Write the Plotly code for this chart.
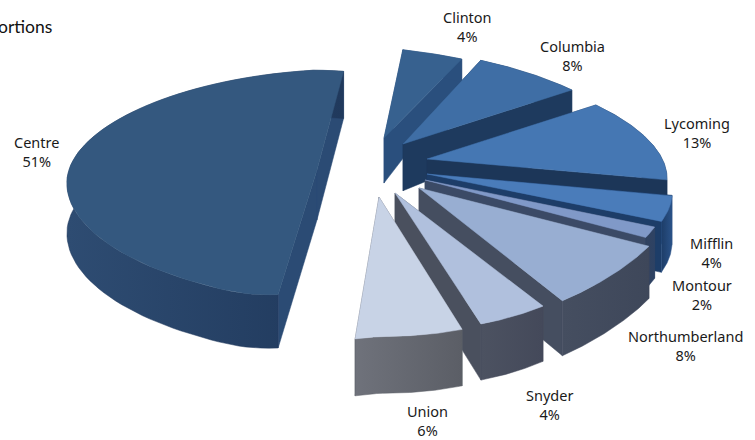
import numpy as np
import plotly.graph_objects as go

# ---- data ----
categories = ["Clinton", "Columbia", "Lycoming", "Mifflin", "Montour",
              "Northumberland", "Snyder", "Union", "Centre"]
shares = [4, 8, 13, 4, 2, 8, 4, 6, 51]
heading = "ortions"

# ---- view geometry (tilted, exploded disc, in page pixels) ----
first_angle = 85.5
warp_at = [0, 14.4, 43.2, 90, 104.4, 111.6, 140.4, 154.8, 176.4, 360]
warp_by = [0, 0, 3, 3.5, 2, 3, 0, 0, 0, 0]
apex_x = [384, 403, 427, 427, 425, 419, 395, 379, 317]
apex_y = [138, 144, 159, 174, 180, 188, 193, 197, 170]
rad_x = [240, 240, 240, 245, 240, 250, 258, 250, 250]
rad_top = [90, 95, 95, 95, 95, 95, 95, 95, 100]
rad_side = [95, 95, 95, 95, 95, 95, 95, 95, 110]
rad_front = [138, 138, 138, 138, 138, 138, 138, 140, 123]
bulge = [.08, .08, .08, .08, .08, .08, .08, .08, .04]
lean = [0, 0, 0, 0, 0, 0, 0, 0, 7]
front_shift = [20, 20, 20, 20, 20, 20, 20, 20, 28]
draw_order = [0, 1, 2, 8, 3, 4, 5, 6, 7]
depth_at_y = [55, 145, 340]
depth_h = [22, 47, 57]
centre_depth_at_y = [68, 348]
centre_depth_h = [47, 55]

# ---- styles ----
top_col = ["#37618f", "#3f6ea5", "#4577b3", "#4a7cba", "#8099c8",
           "#98aed2", "#b0c0dd", "#c8d3e6", "#34587f"]
radial_col = ["#2a4f7d", "#1e3a5e", "#1c3658", "#1d3d68", "#3b4a66",
              "#454e60", "#4a505e", "#5d6068", "#2b4b74"]
arc_cols = [("#2a4f7d", "#2a4f7d"), ("#1e3a5e", "#1e3a5e"), ("#1c3658", "#1c3658"),
            ("#1d3d68", "#2a5288"), ("#31425f", "#2d4264"),
            ("#454e60", "#3e475a"), ("#4c5261", "#44495a"), ("#6f727b", "#5b5e66"),
            ("#2e4c72", "#20395c")]
label_x = [467, 572, 697, 711, 702, 685, 549, 427, 36]
label_y = [26, 55, 132, 252, 294, 345, 404, 420.5, 151]

fig = go.Figure()


def add_poly(xs, ys, color=None, grad=None):
    edge = color if grad is None else grad[1]
    kw = {"fillcolor": color} if grad is None else {
        "fillgradient": dict(type="horizontal",
                             colorscale=[[0, grad[0]], [1, grad[1]]])}
    fig.add_trace(go.Scatter(x=xs, y=ys, mode="lines", fill="toself",
                             line=dict(width=0.5, color=edge), hoverinfo="skip",
                             showlegend=False, **kw))


def rim(i, t):
    c, s = np.cos(t), np.sin(t)
    dx = rad_x[i] * c + lean[i] * s - front_shift[i] * np.clip(-s, 0, 1) ** 20
    ry = np.where(s > 0, rad_top[i], rad_side[i] + (rad_front[i] - rad_side[i]) * s ** 2)
    dy = -ry * s + bulge[i] * np.abs(dx)
    return apex_x[i] + dx, apex_y[i] + dy


def depth(i, y):
    if categories[i] == "Centre":
        return np.interp(y, centre_depth_at_y, centre_depth_h)
    return np.interp(y, depth_at_y, depth_h)


ends = np.cumsum(shares) * 3.6
starts = ends - np.array(shares) * 3.6

for i in draw_order:
    sweep = np.linspace(starts[i], ends[i], 80)
    t = np.radians(first_angle - sweep + np.interp(sweep, warp_at, warp_by))
    x, y = rim(i, t)
    ax, ay = float(apex_x[i]), float(apex_y[i])
    da = depth(i, ay)
    for ex, ey in ((x[0], y[0]), (x[-1], y[-1])):
        add_poly([ax, ex, ex, ax, ax],
                 [ay, ey, ey + depth(i, ey), ay + da, ay], color=radial_col[i])
    add_poly(np.r_[x, x[::-1], x[0]],
             np.r_[y, (y + depth(i, y))[::-1], y[0]], grad=arc_cols[i])
    add_poly(np.r_[ax, x, ax], np.r_[ay, y, ay], color=top_col[i])

for i, name in enumerate(categories):
    fig.add_annotation(x=label_x[i], y=label_y[i], text=f"{name}<br>{shares[i]}%",
                       showarrow=False, align="center",
                       font=dict(family="Noto Sans", size=14.5, color="#1a1a1a"))
fig.add_annotation(x=54, y=26, text=heading, showarrow=False, xanchor="right",
                   font=dict(family="Lato", size=17.5, color="#111111"))

fig.update_layout(width=755, height=440, margin=dict(l=0, r=0, t=0, b=0),
                  paper_bgcolor="white", plot_bgcolor="white",
                  xaxis=dict(range=[0, 755], visible=False, fixedrange=True),
                  yaxis=dict(range=[440, 0], visible=False, fixedrange=True))
fig.write_html("out.html", config={"displayModeBar": False},
               post_script="document.body.style.margin='0';document.body.style.overflow='hidden';")
